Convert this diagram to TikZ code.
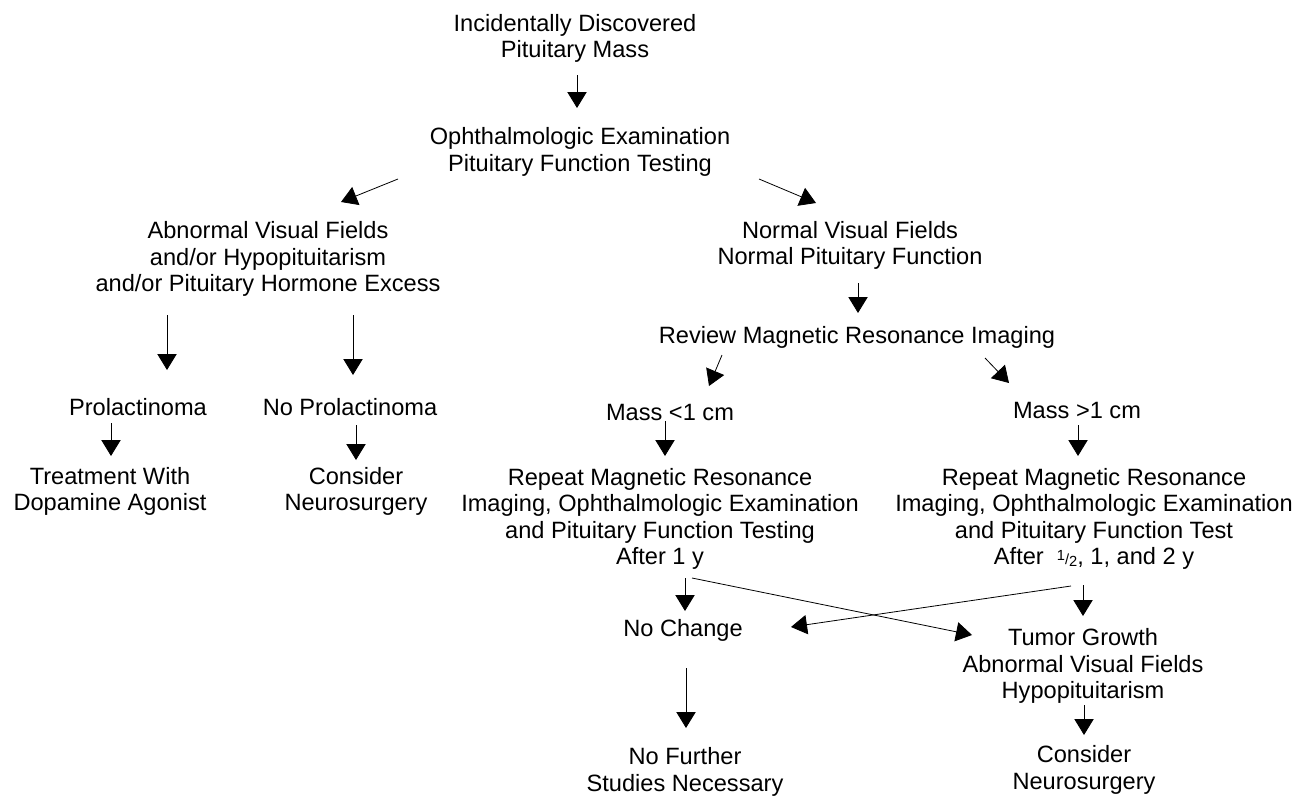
\documentclass[tikz,border=0pt]{standalone}
\usepackage{fontspec}
\setmainfont{Liberation Sans}
\usetikzlibrary{arrows.meta,calc}
\tikzset{
  lbl/.style={align=center,inner sep=0pt,font=\fontsize{17.7pt}{19.9pt}\selectfont},
  arr/.style={line width=0.6pt,-{Triangle[length=12pt,width=14.5pt]}}
}
\newcommand{\halfyr}{{\fontsize{11pt}{11pt}\selectfont\raisebox{0.55ex}{1}/\raisebox{-0.15ex}{2}}}
\begin{document}
\begin{tikzpicture}[x=0.75pt,y=-0.75pt]
\path[use as bounding box,fill=white] (0,0) rectangle (1298,796);
\node[lbl] (top) at (575,38.5) {Incidentally Discovered\\Pituitary Mass};
\node[lbl] (ophth) at (580,152) {Ophthalmologic Examination\\Pituitary Function Testing};
\node[lbl] (abn) at (268,259) {Abnormal Visual Fields\\and/or Hypopituitarism\\and/or Pituitary Hormone Excess};
\node[lbl] (normal) at (850,245.5) {Normal Visual Fields\\Normal Pituitary Function};
\node[lbl] (review) at (857,337) {Review Magnetic Resonance Imaging};
\node[lbl] (prolac) at (138,407) {Prolactinoma};
\node[lbl] (noprolac) at (350,407) {No Prolactinoma};
\node[lbl] (treat) at (110,491.5) {Treatment With\\Dopamine Agonist};
\node[lbl] (consider1) at (356,491.5) {Consider\\Neurosurgery};
\node[lbl] (mass1) at (670,412) {Mass <1 cm};
\node[lbl] (mass2) at (1077,410) {Mass >1 cm};
\node[lbl] (repeat1) at (660,519) {Repeat Magnetic Resonance\\Imaging, Ophthalmologic Examination\\and Pituitary Function Testing\\After 1 y};
\node[lbl] (repeat2) at (1094,519) {Repeat Magnetic Resonance\\Imaging, Ophthalmologic Examination\\and Pituitary Function Test\\After \ \halfyr, 1, and 2 y};
\node[lbl] (nochange) at (683,630) {No Change};
\node[lbl] (tumor) at (1083,666) {Tumor Growth\\Abnormal Visual Fields\\Hypopituitarism};
\node[lbl] (nofurther) at (685,772) {No Further\\Studies Necessary};
\node[lbl] (consider2) at (1084,770) {Consider\\Neurosurgery};

\draw[arr] ($(top)+(2,36.5)$) -- ($(ophth)+(-3,-44)$);
\draw[arr] ($(ophth)+(-182,27)$) -- ($(abn)+(73,-57)$);
\draw[arr] ($(ophth)+(179,27)$) -- ($(normal)+(-34,-42.5)$);
\draw[arr] ($(normal)+(8,37.5)$) -- ($(review)+(1,-24)$);
\draw[arr] ($(review)+(-135,18)$) -- ($(mass1)+(39,-26)$);
\draw[arr] ($(review)+(128,21)$) -- ($(mass2)+(-68,-27)$);
\draw[arr] ($(abn)+(-101,56)$) -- ($(prolac)+(29,-37)$);
\draw[arr] ($(abn)+(85,56)$) -- ($(noprolac)+(3,-32)$);
\draw[arr] ($(prolac)+(-27,16)$) -- ($(treat)+(1,-35.5)$);
\draw[arr] ($(noprolac)+(6,18)$) -- ($(consider1)+(0,-31.5)$);
\draw[arr] ($(mass1)+(-5,9)$) -- ($(repeat1)+(5,-63)$);
\draw[arr] ($(mass2)+(1,15)$) -- ($(repeat2)+(-16,-63)$);
\draw[arr] ($(repeat1)+(25,59)$) -- ($(nochange)+(2,-19)$);
\draw[arr] ($(repeat1)+(32,59)$) -- ($(tumor)+(-111,-31)$);
\draw[arr] ($(repeat2)+(-11,66)$) -- ($(tumor)+(0,-50)$);
\draw[arr] ($(repeat2)+(-23,67)$) -- ($(nochange)+(108,-3)$);
\draw[arr] ($(nochange)+(3,38)$) -- ($(nofurther)+(1,-44)$);
\draw[arr] ($(tumor)+(1,39)$) -- ($(consider2)+(0,-35)$);
\end{tikzpicture}
\end{document}
